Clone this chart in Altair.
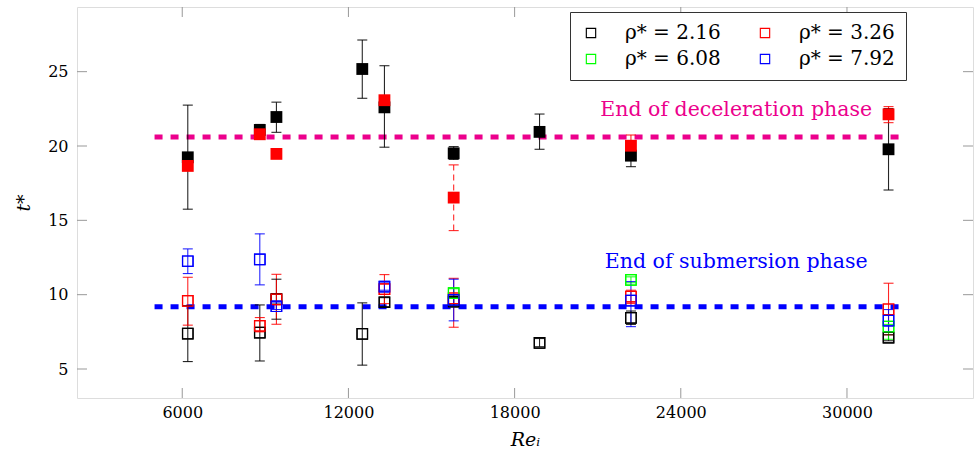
import altair as alt
import pandas as pd

# ---------------- data ----------------
series_labels = ["ρ* = 2.16", "ρ* = 3.26", "ρ* = 6.08", "ρ* = 7.92"]
series_colors = ["#000000", "#ff0000", "#00ff00", "#0000ff"]

# Deceleration phase (filled squares)
dec_re = [6200, 8800, 9400, 12500, 13300, 15800, 18900, 22200, 31500,
          6200, 8800, 9400, 13300, 15800, 22200, 31500]
dec_t = [19.24, 21.08, 21.95, 25.18, 22.60, 19.51, 20.95, 19.35, 19.78,
         18.66, 20.79, 19.47, 23.08, 16.53, 20.02, 22.13]
dec_lo = [15.75, 20.70, 20.92, 23.21, 19.92, 19.10, 19.78, 18.61, 17.04,
          18.45, 20.55, 19.35, 22.90, 14.31, 19.80, 21.57]
dec_hi = [22.75, 21.45, 22.95, 27.13, 25.40, 19.96, 22.15, 20.10, 22.52,
          18.90, 21.05, 19.60, 23.30, 18.73, 20.74, 22.65]
dec_rho = [0, 0, 0, 0, 0, 0, 0, 0, 0,
           1, 1, 1, 1, 1, 1, 1]
dec_dash = [0, 0, 0, 0, 0, 0, 0, 0, 0,
            0, 0, 0, 0, 1, 0, 0]

# Submersion phase (open squares)
sub_re = [6200, 8800, 9400, 12500, 13300, 15800, 18900, 22200, 31500,
          6200, 8800, 9400, 13300, 15800, 22200, 31500,
          15800, 22200, 31500,
          6200, 8800, 9400, 13300, 15800, 22200, 31500]
sub_t = [7.38, 7.45, 9.70, 7.36, 9.49, 9.53, 6.76, 8.44, 7.11,
         9.58, 7.90, 9.69, 10.37, 9.76, 9.87, 9.02,
         10.10, 10.99, 7.85,
         12.25, 12.38, 9.22, 10.54, 9.65, 9.60, 8.25]
sub_lo = [5.50, 5.54, 8.35, 5.26, 9.20, 9.30, 6.50, 8.00, 6.90,
          7.95, 7.50, 8.01, 9.40, 7.81, 9.40, 7.30,
          9.80, 10.80, 7.00,
          11.42, 10.66, 9.00, 10.30, 8.24, 7.85, 7.50]
sub_hi = [9.26, 9.31, 11.04, 9.45, 9.80, 9.80, 7.05, 8.90, 7.30,
          11.17, 8.46, 11.37, 11.35, 11.10, 10.30, 10.77,
          10.40, 11.20, 8.00,
          13.08, 14.09, 9.50, 10.80, 11.04, 10.88, 9.00]
sub_rho = [0] * 9 + [1] * 7 + [2] * 3 + [3] * 7

# Reference lines
ref_y = [20.61, 9.18]
ref_x1 = [5000, 5000]
ref_x2 = [32000, 32000]
ref_colors = ["#ec008c", "#0000ff"]
ref_text = ["End of deceleration phase", "End of submersion phase"]
ref_text_x = [26000, 26000]
ref_text_y = [22.42, 12.20]

x_ticks = [6000, 12000, 18000, 24000, 30000]
y_ticks = [5, 10, 15, 20, 25]

# ---------------- frames ----------------
dec = pd.DataFrame({
    "re": dec_re, "t": dec_t, "lo": dec_lo, "hi": dec_hi,
    "rho": [series_labels[i] for i in dec_rho],
    "dash": ["dashed" if d else "solid" for d in dec_dash],
    "order": dec_rho,
})
sub = pd.DataFrame({
    "re": sub_re, "t": sub_t, "lo": sub_lo, "hi": sub_hi,
    "rho": [series_labels[i] for i in sub_rho],
    "dash": ["solid"] * len(sub_re),
    "order": sub_rho,
})
refs = pd.DataFrame({"y": ref_y, "x1": ref_x1, "x2": ref_x2,
                     "c": ref_colors, "txt": ref_text,
                     "tx": ref_text_x, "ty": ref_text_y})
xt = pd.DataFrame({"v": x_ticks})
yt = pd.DataFrame({"v": y_ticks})

W, H = 896, 391
FONT = "DejaVu Serif"

xs = alt.Scale(domain=[2200, 34550], nice=False, zero=False)
ys = alt.Scale(domain=[3.05, 29.35], nice=False, zero=False)
cs = alt.Scale(domain=series_labels, range=series_colors)
ds = alt.Scale(domain=["solid", "dashed"], range=[[1, 0], [6, 4]])

# open-square legend glyph: outer square with an inner hole
OPEN_SQUARE = "M-1,-1H1V1H-1Z M-0.78,-0.78V0.78H0.78V-0.78Z"

LEG = alt.Legend(title=None, orient="none", legendX=493, legendY=5,
                 direction="horizontal", columns=2, symbolType=OPEN_SQUARE,
                 symbolSize=110, symbolStrokeWidth=0,
                 labelFont=FONT, labelFontSize=20, labelColor="black",
                 labelOffset=24, columnPadding=34, rowPadding=6,
                 padding=11, strokeColor="#333333", fillColor="white",
                 labelLimit=300)
C = alt.Color("rho:N", scale=cs, legend=LEG)
S = alt.Stroke("rho:N", scale=cs, legend=None)
F = alt.Fill("rho:N", scale=cs, legend=None)

X = alt.X("re:Q", scale=xs,
          axis=alt.Axis(values=x_ticks, title="Reᵢ", ticks=False, grid=False,
                        domain=False, labelFontSize=16, labelFont=FONT,
                        labelColor="black", labelPadding=6, format="d",
                        titleFont=FONT, titleFontSize=19, titleFontStyle="italic",
                        titleFontWeight="normal", titleColor="black", titlePadding=10))
Y = alt.Y("t:Q", scale=ys,
          axis=alt.Axis(values=y_ticks, title="t*", ticks=False, grid=False,
                        domain=False, labelFontSize=16, labelFont=FONT,
                        labelColor="black", labelPadding=9,
                        titleFont=FONT, titleFontSize=19, titleFontStyle="italic",
                        titleFontWeight="normal", titleColor="black", titlePadding=14))


def err_layers(df):
    base = alt.Chart(df)
    bar = base.mark_rule(strokeWidth=1.1, opacity=0.85).encode(
        x=alt.X("re:Q", scale=xs), y=alt.Y("lo:Q", scale=ys), y2="hi:Q",
        stroke=S,
        strokeDash=alt.StrokeDash("dash:N", scale=ds, legend=None),
        order="order:Q")
    cap_lo = base.mark_tick(orient="horizontal", size=10, thickness=1.1, opacity=0.85).encode(
        x=alt.X("re:Q", scale=xs), y=alt.Y("lo:Q", scale=ys),
        fill=F, order="order:Q")
    cap_hi = base.mark_tick(orient="horizontal", size=10, thickness=1.1, opacity=0.85).encode(
        x=alt.X("re:Q", scale=xs), y=alt.Y("hi:Q", scale=ys),
        fill=F, order="order:Q")
    return [bar, cap_lo, cap_hi]


ref_lines = alt.Chart(refs).mark_rule(strokeWidth=5, strokeDash=[8, 8]).encode(
    x=alt.X("x1:Q", scale=xs), x2="x2:Q", y=alt.Y("y:Q", scale=ys),
    stroke=alt.Stroke("c:N", scale=None, legend=None))

ref_labels = alt.Chart(refs).mark_text(font=FONT, fontSize=20.5, align="center",
                                       baseline="middle").encode(
    x=alt.X("tx:Q", scale=xs), y=alt.Y("ty:Q", scale=ys), text="txt:N",
    fill=alt.Fill("c:N", scale=None, legend=None))

sub_pts = alt.Chart(sub).mark_point(shape="square", filled=False, size=110,
                                    strokeWidth=1.2, opacity=1).encode(
    x=X, y=Y, color=C, order="order:Q")

dec_pts = alt.Chart(dec).mark_point(shape="square", filled=True, size=140, opacity=1,
                                    strokeWidth=0).encode(
    x=alt.X("re:Q", scale=xs), y=alt.Y("t:Q", scale=ys),
    fill=F, order="order:Q")

tick_col = "#999999"
tick_bottom = alt.Chart(xt).mark_rule(color=tick_col).encode(
    x=alt.X("v:Q", scale=xs), y=alt.value(H), y2=alt.value(H - 10))
tick_top = alt.Chart(xt).mark_rule(color=tick_col).encode(
    x=alt.X("v:Q", scale=xs), y=alt.value(0), y2=alt.value(10))
tick_left = alt.Chart(yt).mark_rule(color=tick_col).encode(
    y=alt.Y("v:Q", scale=ys), x=alt.value(0), x2=alt.value(10))
tick_right = alt.Chart(yt).mark_rule(color=tick_col).encode(
    y=alt.Y("v:Q", scale=ys), x=alt.value(W), x2=alt.value(W - 10))

layers = ([sub_pts, tick_bottom, tick_top, tick_left, tick_right, ref_lines]
          + err_layers(dec) + err_layers(sub) + [dec_pts, sub_pts, ref_labels])

chart = alt.layer(*layers).properties(
    width=W, height=H,
    autosize=alt.AutoSizeParams(type="none"),
    padding={"left": 77, "top": 7, "right": 2, "bottom": 60},
).configure_view(stroke="#333333", strokeWidth=1.2).configure(background="white", font=FONT)

chart.save("out.html", embed_options={"renderer": "svg", "actions": False})
